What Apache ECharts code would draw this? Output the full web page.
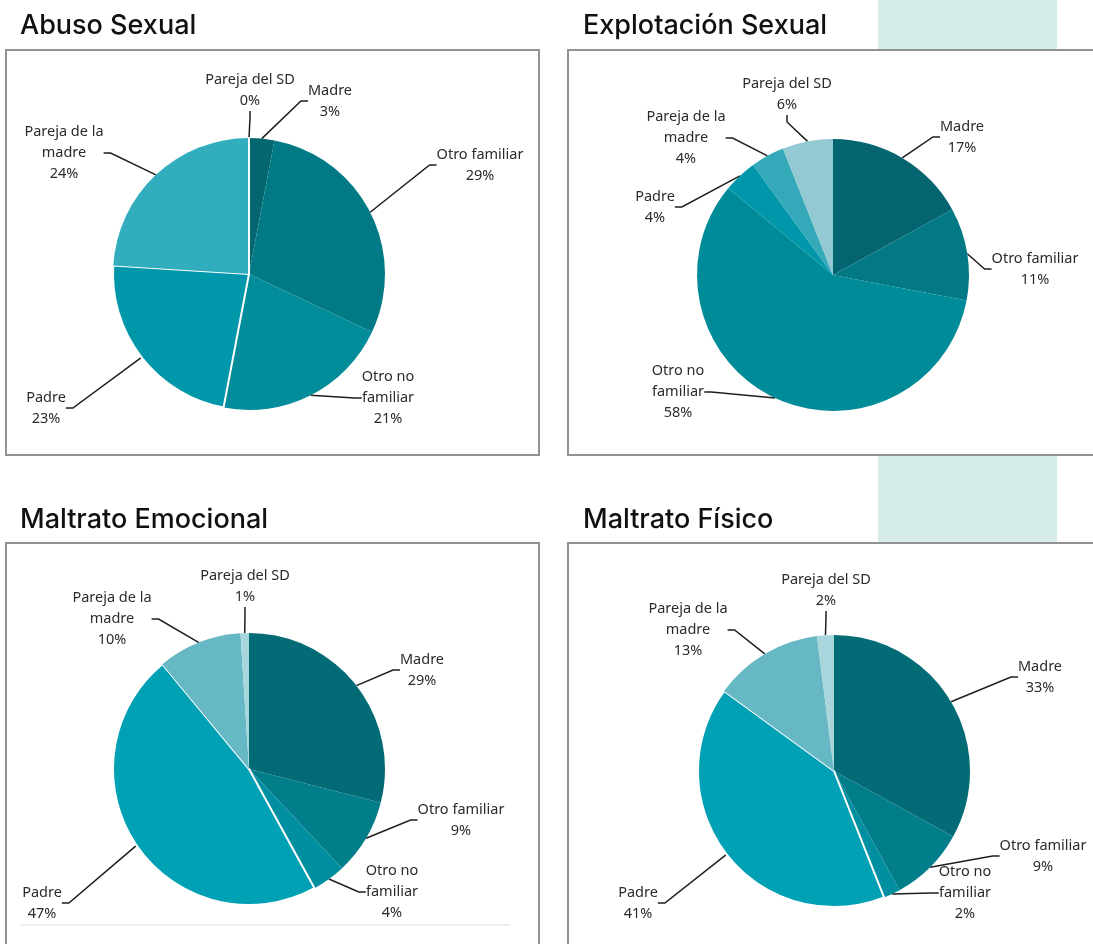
<!DOCTYPE html>
<html>
<head>
<meta charset="utf-8">
<script src="https://cdn.jsdelivr.net/npm/echarts@6/dist/echarts.min.js"></script>
<style>
  body { margin: 0; background: #fff; }
  #main { width: 1093px; height: 944px; }
</style>
</head>
<body>
<div id="main"></div>
<script>
// categorias (mismo orden en los 4 graficos, sentido horario desde las 12)
var categorias = ['Madre', 'Otro familiar', 'Otro no familiar', 'Padre', 'Pareja de la madre', 'Pareja del SD'];

var abusoSexual       = [3, 29, 21, 23, 24, 0];
var explotacionSexual = [17, 11, 58, 4, 4, 6];
var maltratoEmocional = [29, 9, 4, 47, 10, 1];
var maltratoFisico    = [33, 9, 2, 41, 13, 2];

var titulos = ['Abuso Sexual', 'Explotación Sexual', 'Maltrato Emocional', 'Maltrato Físico'];

// colores de los sectores (cambian un poco entre graficos)
var coloresA = ['#04666f', '#027a86', '#038c99', '#0097ab', '#32adbd', '#9ccfd8'];
var coloresB = ['#046570', '#027985', '#008b98', '#0097ab', '#33a9b9', '#93c9d3'];
var coloresC = ['#036b75', '#027d8a', '#008fa0', '#00a0b5', '#66b8c5', '#a8d6dc'];

// posicion (centro) de cada etiqueta, como en el original de Excel
var posEtiquetas = [
  [[330, 101], [480, 165], [388, 398], [46, 408], [64, 153], [250, 90]],
  [[962, 137], [1035, 269], [678, 392], [655, 207], [686, 138], [787, 94]],
  [[422, 670], [461, 820], [392, 892], [42, 903], [112, 619], [245, 586]],
  [[1040, 677], [1043, 856], [965, 893], [638, 903], [688, 630], [826, 590]]
];

var chart = echarts.init(document.getElementById('main'));

function partirNombre(n) {
  if (n === 'Pareja de la madre') return 'Pareja de la\nmadre';
  if (n === 'Otro no familiar') return 'Otro no\nfamiliar';
  return n;
}

function torta(valores, colores, centro, idx, bordes) {
  return {
    type: 'pie',
    center: centro,
    radius: 136,
    startAngle: 90,
    clockwise: true,
    animation: false,
    silent: true,
    data: valores.map(function (v, i) {
      var it = { name: categorias[i], value: v, itemStyle: { color: colores[i] } };
      if (bordes.indexOf(i) >= 0) {
        it.itemStyle.borderColor = '#fff';
        it.itemStyle.borderWidth = 2;
      }
      return it;
    }),
    label: {
      show: true,
      position: 'outside',
      formatter: function (p) { return partirNombre(p.name) + '\n' + p.value + '%'; },
      fontFamily: 'Noto Sans',
      fontSize: 14.5,
      lineHeight: 21,
      color: '#2b2b2b',
      align: 'center'
    },
    labelLine: {
      show: true,
      length: 10,
      length2: 7,
      lineStyle: { color: '#1e1e1e', width: 1.5 }
    },
    labelLayout: function (p) {
      var pos = posEtiquetas[idx][p.dataIndex];
      return { x: pos[0], y: pos[1], align: 'center', verticalAlign: 'middle' };
    }
  };
}

var estiloTitulo = { fontFamily: 'Inter', fontWeight: 500, fontSize: 27, color: '#111' };

var option = {
  backgroundColor: '#fff',
  title: [
    { text: titulos[0], left: 20, top: 12, padding: 0, textStyle: estiloTitulo },
    { text: titulos[1], left: 583, top: 12, padding: 0, textStyle: estiloTitulo },
    { text: titulos[2], left: 20, top: 506, padding: 0, textStyle: estiloTitulo },
    { text: titulos[3], left: 583, top: 506, padding: 0, textStyle: estiloTitulo }
  ],
  graphic: {
    elements: [
      { type: 'rect', z: 0, shape: { x: 878, y: 0, width: 179, height: 543 }, style: { fill: '#d6ece8' } },
      { type: 'rect', z: 1, shape: { x: 6, y: 50, width: 533, height: 405 }, style: { fill: '#fff', stroke: '#929292', lineWidth: 2 } },
      { type: 'rect', z: 1, shape: { x: 568, y: 50, width: 540, height: 405 }, style: { fill: '#fff', stroke: '#929292', lineWidth: 2 } },
      { type: 'rect', z: 1, shape: { x: 6, y: 543, width: 533, height: 420 }, style: { fill: '#fff', stroke: '#929292', lineWidth: 2 } },
      { type: 'rect', z: 1, shape: { x: 568, y: 543, width: 540, height: 420 }, style: { fill: '#fff', stroke: '#929292', lineWidth: 2 } },
      { type: 'line', z: 1, shape: { x1: 20, y1: 925, x2: 510, y2: 925 }, style: { stroke: '#dcdcdc', lineWidth: 1 } }
    ]
  },
  series: [
    torta(abusoSexual, coloresA, [249, 274], 0, [3, 5]),
    torta(explotacionSexual, coloresB, [833, 275], 1, []),
    torta(maltratoEmocional, coloresC, [249, 769], 2, [3]),
    torta(maltratoFisico, coloresC, [834, 771], 3, [3])
  ]
};

chart.setOption(option);
</script>
</body>
</html>
